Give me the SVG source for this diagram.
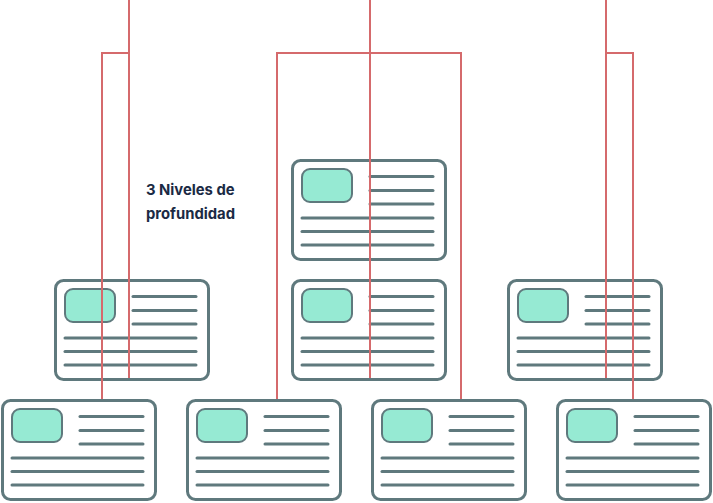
<svg xmlns="http://www.w3.org/2000/svg" xmlns:xlink="http://www.w3.org/1999/xlink" width="713" height="503" viewBox="0 0 713 503">
<style>
.frame{fill:#ffffff;stroke:#5f797d;stroke-width:3}
.img{fill:#96ead3;stroke:#5f797d;stroke-width:2}
.ln{stroke:#5f797d;stroke-width:3;stroke-linecap:round}
.wire{fill:none;stroke:#d56a6c;stroke-width:2}
.lbl{font-family:Inter,"Noto Sans",sans-serif;font-weight:700;font-size:14.8px;fill:#1b2a44}
</style>
<defs>
<g id="card">
<rect class="frame" x="1.5" y="1.5" width="153" height="99" rx="8"/>
<rect class="img" x="11" y="10" width="50" height="33" rx="8"/>
<line class="ln" x1="79" y1="17.5" x2="142" y2="17.5"/>
<line class="ln" x1="79" y1="31.5" x2="142" y2="31.5"/>
<line class="ln" x1="79" y1="45" x2="142" y2="45"/>
<line class="ln" x1="11" y1="59" x2="142" y2="59"/>
<line class="ln" x1="11" y1="72.5" x2="142" y2="72.5"/>
<line class="ln" x1="11" y1="86" x2="142" y2="86"/>
</g>
</defs>
<rect width="713" height="503" fill="#ffffff"/>
<g id="node-top"><use xlink:href="#card" x="291" y="159"/></g>
<g id="node-mid-left"><use xlink:href="#card" x="54" y="279"/></g>
<g id="node-mid-center"><use xlink:href="#card" x="291" y="279"/></g>
<g id="node-mid-right"><use xlink:href="#card" x="507" y="279"/></g>
<g id="node-bot-1"><use xlink:href="#card" x="1" y="399"/></g>
<g id="node-bot-2"><use xlink:href="#card" x="186" y="399"/></g>
<g id="node-bot-3"><use xlink:href="#card" x="371" y="399"/></g>
<g id="node-bot-4"><use xlink:href="#card" x="556" y="399"/></g>
<g id="label"><text class="lbl" x="146" y="195">3 Niveles de</text><text class="lbl" x="146" y="219">profundidad</text></g>
<g id="connectors">
<path class="wire" d="M129,0 V378"/>
<path class="wire" d="M129,53 H102 V399"/>
<path class="wire" d="M370,0 V378"/>
<path class="wire" d="M277,399 V53 H461 V399"/>
<path class="wire" d="M606,0 V378"/>
<path class="wire" d="M606,53 H633 V399"/>
</g>
</svg>
